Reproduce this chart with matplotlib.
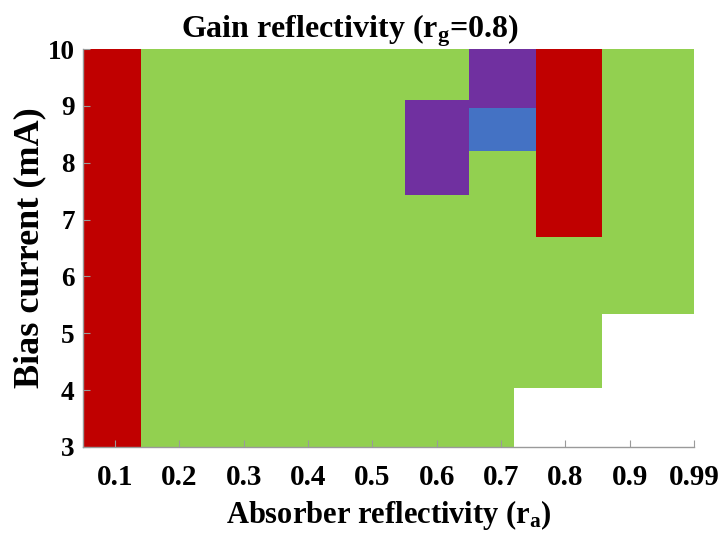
import matplotlib
matplotlib.use("Agg")
import matplotlib.pyplot as plt
from matplotlib.colors import ListedColormap, BoundaryNorm
import numpy as np

# absorber reflectivity categories (x) and bias current range (y)
ra_labels = ['0.1', '0.2', '0.3', '0.4', '0.5', '0.6', '0.7', '0.8', '0.9', '0.99']
bias_ticks = [3, 4, 5, 6, 7, 8, 9, 10]

# region boundaries (x in category index units, y in mA)
x_edges = [0.5, 1.4, 5.5, 6.5, 7.2, 7.55, 8.57, 10.0]
y_edges = [3.0, 4.04, 5.34, 6.70, 7.43, 8.21, 8.96, 9.10, 10.0]

# 0 = no data, 1 = green, 2 = red, 3 = purple, 4 = blue  (rows bottom -> top)
state = [
    [2, 1, 1, 1, 0, 0, 0],
    [2, 1, 1, 1, 1, 1, 0],
    [2, 1, 1, 1, 1, 1, 1],
    [2, 1, 1, 1, 1, 2, 1],
    [2, 1, 3, 1, 1, 2, 1],
    [2, 1, 3, 4, 4, 2, 1],
    [2, 1, 3, 3, 3, 2, 1],
    [2, 1, 1, 3, 3, 2, 1],
]

state_colors = ['white', '#92D050', '#C00000', '#7030A0', '#4472C4']

plt.rcParams['font.family'] = ['Liberation Serif', 'DejaVu Serif']
plt.rcParams['font.weight'] = 'bold'
plt.rcParams['mathtext.fontset'] = 'custom'
plt.rcParams['mathtext.rm'] = 'Liberation Serif:bold'
plt.rcParams['mathtext.it'] = 'Liberation Serif:bold'
plt.rcParams['mathtext.bf'] = 'Liberation Serif:bold'

fig = plt.figure(figsize=(7.21, 5.33), dpi=100)
ax = fig.add_axes([0.115, 0.1614, 0.8476, 0.7466])

cmap = ListedColormap(state_colors)
norm = BoundaryNorm(np.arange(-0.5, len(state_colors) + 0.5), cmap.N)
ax.pcolormesh(x_edges, y_edges, np.array(state), cmap=cmap, norm=norm,
              shading='flat', zorder=1)

ax.set_xlim(0.5, 10.0)
ax.set_ylim(3, 10)
ax.set_xticks(np.arange(1, len(ra_labels) + 1))
ax.set_xticklabels(ra_labels)
ax.set_yticks(bias_ticks)

for side in ['top', 'right']:
    ax.spines[side].set_visible(False)
for side in ['left', 'bottom']:
    ax.spines[side].set_color('#9a9a9a')
    ax.spines[side].set_linewidth(1.0)
    ax.spines[side].set_zorder(3)

ax.tick_params(axis='both', direction='in', color='#9a9a9a', length=5,
               labelcolor='black')
ax.tick_params(axis='x', pad=12, labelsize=21)
ax.tick_params(axis='y', pad=6, labelsize=19.5)

ax.set_xlabel('Absorber reflectivity (r$_\\mathrm{a}$)', fontsize=22,
              fontweight='bold', labelpad=5)
ax.set_ylabel('Bias current (mA)', fontsize=26, fontweight='bold', labelpad=1)
ax.set_title('Gain reflectivity (r$_\\mathrm{g}$=0.8)', fontsize=23,
             fontweight='bold', pad=4, x=0.437)

fig.savefig('out.png', dpi=100)
